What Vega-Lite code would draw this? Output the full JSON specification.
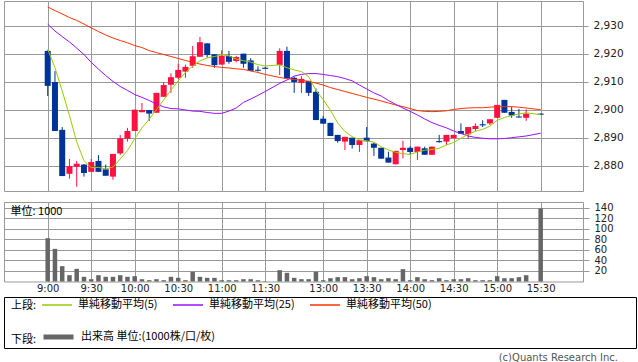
{
"$schema": "https://vega.github.io/schema/vega-lite/v6.json",
"padding": {"left": 3, "top": 0, "right": 0, "bottom": 0},
"background": "white",
"config": {
  "view": {"stroke": "#999999", "strokeWidth": 1},
  "axis": {"gridColor": "#999999", "gridOpacity": 1, "gridWidth": 1, "domain": false, "tickColor": "#999999", "labelColor": "#222222", "labelFont": "DejaVu Sans", "labelFontSize": 10},
  "axisY": {"values": [2880,2890,2900,2910,2920,2930], "format": ",d", "tickSize": 5, "labelPadding": 5, "labelFontSize": 10.5, "labelOverlap": false, "grid": true}
},
"datasets": {
"k": [
{"s":0,"o":2921.0,"h":2921.2,"l":2904.9,"c":2908.5,"ma5":2921.6,"ma25":2930.5,"ma50":2936.7},
{"s":1,"o":2909.9,"h":2913.8,"l":2892.4,"c":2892.4,"ma5":2915.0,"ma25":2928.1,"ma50":2935.4},
{"s":2,"o":2892.8,"h":2893.8,"l":2876.3,"c":2876.3,"ma5":2906.7,"ma25":2926.1,"ma50":2934.2},
{"s":3,"o":2877.1,"h":2882.4,"l":2875.4,"c":2879.9,"ma5":2897.9,"ma25":2924.2,"ma50":2932.9},
{"s":4,"o":2879.6,"h":2881.7,"l":2872.5,"c":2880.7,"ma5":2888.5,"ma25":2922.0,"ma50":2931.9},
{"s":5,"o":2880.4,"h":2880.6,"l":2876.1,"c":2877.4,"ma5":2881.8,"ma25":2919.7,"ma50":2930.6},
{"s":6,"o":2877.8,"h":2882.4,"l":2877.8,"c":2881.3,"ma5":2879.3,"ma25":2916.9,"ma50":2929.2},
{"s":7,"o":2881.7,"h":2883.8,"l":2877.8,"c":2877.8,"ma5":2879.4,"ma25":2914.5,"ma50":2927.9},
{"s":8,"o":2878.7,"h":2880.4,"l":2876.4,"c":2876.4,"ma5":2878.8,"ma25":2912.2,"ma50":2926.7},
{"s":9,"o":2876.1,"h":2884.2,"l":2875.0,"c":2884.2,"ma5":2879.5,"ma25":2910.1,"ma50":2925.6},
{"s":10,"o":2884.4,"h":2891.0,"l":2883.8,"c":2889.8,"ma5":2882.4,"ma25":2908.3,"ma50":2924.7},
{"s":11,"o":2889.6,"h":2893.5,"l":2888.6,"c":2892.4,"ma5":2885.4,"ma25":2906.9,"ma50":2923.9},
{"s":12,"o":2892.4,"h":2900.0,"l":2892.4,"c":2900.0,"ma5":2889.6,"ma25":2905.4,"ma50":2922.9},
{"s":13,"o":2899.1,"h":2902.4,"l":2899.1,"c":2899.9,"ma5":2893.5,"ma25":2904.4,"ma50":2922.2},
{"s":14,"o":2899.9,"h":2899.9,"l":2896.0,"c":2898.6,"ma5":2896.6,"ma25":2903.3,"ma50":2921.1},
{"s":15,"o":2898.9,"h":2906.0,"l":2898.9,"c":2906.0,"ma5":2900.0,"ma25":2902.0,"ma50":2920.4},
{"s":16,"o":2904.6,"h":2909.9,"l":2904.6,"c":2908.8,"ma5":2903.5,"ma25":2901.0,"ma50":2919.7},
{"s":17,"o":2908.9,"h":2913.0,"l":2906.0,"c":2911.6,"ma5":2907.0,"ma25":2900.4,"ma50":2919.0},
{"s":18,"o":2911.4,"h":2916.4,"l":2911.0,"c":2914.2,"ma5":2910.3,"ma25":2900.3,"ma50":2918.3},
{"s":19,"o":2913.6,"h":2916.1,"l":2911.4,"c":2915.3,"ma5":2913.3,"ma25":2899.9,"ma50":2917.6},
{"s":20,"o":2915.7,"h":2922.8,"l":2915.0,"c":2919.1,"ma5":2915.6,"ma25":2899.5,"ma50":2916.9},
{"s":21,"o":2918.9,"h":2926.0,"l":2918.9,"c":2924.1,"ma5":2917.4,"ma25":2899.4,"ma50":2916.3},
{"s":22,"o":2923.7,"h":2923.7,"l":2918.6,"c":2919.5,"ma5":2918.5,"ma25":2899.0,"ma50":2915.8},
{"s":23,"o":2919.8,"h":2919.8,"l":2915.0,"c":2915.9,"ma5":2919.0,"ma25":2898.7,"ma50":2915.4},
{"s":24,"o":2916.1,"h":2921.2,"l":2916.1,"c":2919.2,"ma5":2919.6,"ma25":2898.7,"ma50":2915.1},
{"s":25,"o":2919.2,"h":2921.0,"l":2916.4,"c":2917.1,"ma5":2919.2,"ma25":2899.5,"ma50":2914.9},
{"s":26,"o":2917.4,"h":2919.2,"l":2916.9,"c":2918.8,"ma5":2918.1,"ma25":2900.6,"ma50":2914.6},
{"s":27,"o":2920.0,"h":2920.0,"l":2915.0,"c":2916.4,"ma5":2917.5,"ma25":2902.6,"ma50":2914.4},
{"s":28,"o":2917.6,"h":2918.4,"l":2913.9,"c":2913.9,"ma5":2917.0,"ma25":2903.8,"ma50":2913.8},
{"s":29,"o":2914.3,"h":2915.5,"l":2913.6,"c":2913.9,"ma5":2916.1,"ma25":2905.1,"ma50":2913.3},
{"s":30,"o":2915.0,"h":2915.2,"l":2914.6,"c":2914.6,"ma5":2915.6,"ma25":2906.5,"ma50":2912.6},
{"s":32,"o":2916.0,"h":2921.9,"l":2912.4,"c":2921.0,"ma5":2916.0,"ma25":2909.4,"ma50":2911.5},
{"s":33,"o":2921.0,"h":2922.5,"l":2911.2,"c":2911.2,"ma5":2915.0,"ma25":2910.6,"ma50":2911.1},
{"s":34,"o":2911.4,"h":2911.8,"l":2906.0,"c":2909.9,"ma5":2914.2,"ma25":2912.0,"ma50":2910.8},
{"s":35,"o":2909.6,"h":2912.0,"l":2906.0,"c":2911.0,"ma5":2913.6,"ma25":2912.6,"ma50":2910.5},
{"s":36,"o":2910.3,"h":2910.3,"l":2904.9,"c":2906.0,"ma5":2911.8,"ma25":2912.9,"ma50":2910.1},
{"s":37,"o":2906.4,"h":2907.6,"l":2896.3,"c":2896.3,"ma5":2906.9,"ma25":2912.9,"ma50":2909.5},
{"s":38,"o":2896.8,"h":2897.8,"l":2895.0,"c":2895.0,"ma5":2903.6,"ma25":2912.6,"ma50":2908.8},
{"s":39,"o":2895.3,"h":2895.3,"l":2890.6,"c":2890.6,"ma5":2899.8,"ma25":2912.2,"ma50":2907.9},
{"s":40,"o":2891.0,"h":2891.0,"l":2888.2,"c":2888.8,"ma5":2895.3,"ma25":2911.8,"ma50":2907.2},
{"s":41,"o":2888.6,"h":2890.3,"l":2885.6,"c":2890.3,"ma5":2892.2,"ma25":2911.1,"ma50":2906.5},
{"s":42,"o":2890.0,"h":2890.0,"l":2886.1,"c":2887.4,"ma5":2890.4,"ma25":2910.3,"ma50":2905.8},
{"s":43,"o":2887.4,"h":2889.1,"l":2884.9,"c":2889.1,"ma5":2889.2,"ma25":2908.8,"ma50":2905.1},
{"s":44,"o":2890.0,"h":2893.8,"l":2888.7,"c":2888.7,"ma5":2888.9,"ma25":2907.4,"ma50":2904.4},
{"s":45,"o":2887.9,"h":2888.2,"l":2883.5,"c":2886.4,"ma5":2888.4,"ma25":2906.0,"ma50":2903.8},
{"s":46,"o":2886.4,"h":2886.4,"l":2882.5,"c":2882.5,"ma5":2886.8,"ma25":2904.9,"ma50":2903.1},
{"s":47,"o":2882.9,"h":2885.0,"l":2881.1,"c":2881.1,"ma5":2885.6,"ma25":2903.3,"ma50":2902.4},
{"s":48,"o":2880.5,"h":2885.3,"l":2880.5,"c":2885.3,"ma5":2884.8,"ma25":2901.9,"ma50":2901.7},
{"s":49,"o":2885.6,"h":2888.9,"l":2882.6,"c":2886.4,"ma5":2884.3,"ma25":2900.6,"ma50":2901.1},
{"s":50,"o":2886.4,"h":2887.0,"l":2884.1,"c":2884.9,"ma5":2884.0,"ma25":2899.4,"ma50":2900.4},
{"s":51,"o":2884.9,"h":2886.8,"l":2882.0,"c":2886.8,"ma5":2884.9,"ma25":2898.1,"ma50":2899.7},
{"s":52,"o":2886.2,"h":2886.8,"l":2883.9,"c":2883.9,"ma5":2885.5,"ma25":2896.7,"ma50":2899.4},
{"s":53,"o":2883.9,"h":2886.8,"l":2883.9,"c":2886.8,"ma5":2885.8,"ma25":2895.4,"ma50":2899.3},
{"s":54,"o":2888.8,"h":2891.0,"l":2888.2,"c":2888.4,"ma5":2886.2,"ma25":2894.4,"ma50":2899.4},
{"s":55,"o":2888.6,"h":2891.0,"l":2887.4,"c":2891.0,"ma5":2887.4,"ma25":2893.5,"ma50":2899.6},
{"s":56,"o":2889.8,"h":2891.0,"l":2889.8,"c":2891.0,"ma5":2888.3,"ma25":2892.4,"ma50":2900.1},
{"s":57,"o":2892.4,"h":2895.1,"l":2891.4,"c":2891.4,"ma5":2889.8,"ma25":2891.5,"ma50":2900.4},
{"s":58,"o":2891.2,"h":2893.8,"l":2889.6,"c":2893.8,"ma5":2891.2,"ma25":2890.6,"ma50":2900.6},
{"s":59,"o":2893.1,"h":2895.1,"l":2892.4,"c":2894.2,"ma5":2892.3,"ma25":2890.1,"ma50":2900.7},
{"s":60,"o":2894.8,"h":2896.2,"l":2893.8,"c":2894.4,"ma5":2893.0,"ma25":2889.8,"ma50":2900.7},
{"s":61,"o":2895.1,"h":2896.6,"l":2894.5,"c":2896.6,"ma5":2894.1,"ma25":2889.6,"ma50":2900.9},
{"s":62,"o":2897.1,"h":2901.7,"l":2897.1,"c":2901.7,"ma5":2896.2,"ma25":2889.6,"ma50":2901.1},
{"s":63,"o":2903.5,"h":2903.5,"l":2898.9,"c":2898.9,"ma5":2897.2,"ma25":2889.7,"ma50":2901.1},
{"s":64,"o":2899.2,"h":2901.0,"l":2897.1,"c":2897.9,"ma5":2897.9,"ma25":2890.0,"ma50":2901.1},
{"s":65,"o":2897.6,"h":2900.3,"l":2897.2,"c":2897.2,"ma5":2898.5,"ma25":2890.3,"ma50":2900.9},
{"s":66,"o":2897.1,"h":2900.1,"l":2896.0,"c":2898.6,"ma5":2898.9,"ma25":2890.6,"ma50":2900.6},
{"s":68,"o":2898.6,"h":2898.6,"l":2898.2,"c":2898.2,"ma5":2898.2,"ma25":2891.6,"ma50":2900.0}
],
"vol": [
{"s":0,"v":82.5},{"s":1,"v":62.2},{"s":2,"v":29.2},{"s":3,"v":12.0},{"s":4,"v":24.1},{"s":5,"v":8.9},{"s":6,"v":4.4},{"s":7,"v":12.0},{"s":8,"v":8.9},{"s":9,"v":8.9},
{"s":10,"v":12.0},{"s":11,"v":8.9},{"s":12,"v":10.2},{"s":13,"v":4.4},{"s":14,"v":2.5},{"s":15,"v":4.4},{"s":16,"v":2.5},{"s":17,"v":8.9},{"s":18,"v":7.0},{"s":19,"v":2.5},
{"s":20,"v":18.4},{"s":21,"v":8.9},{"s":22,"v":7.0},{"s":23,"v":7.0},{"s":24,"v":2.5},{"s":25,"v":2.5},{"s":26,"v":2.5},{"s":27,"v":4.4},{"s":28,"v":4.4},{"s":29,"v":2.5},
{"s":30,"v":0.6},{"s":32,"v":21.6},{"s":33,"v":16.5},{"s":34,"v":7.0},{"s":35,"v":4.4},{"s":36,"v":4.4},{"s":37,"v":18.4},{"s":38,"v":2.5},{"s":39,"v":6.3},
{"s":40,"v":8.3},{"s":41,"v":8.3},{"s":42,"v":4.4},{"s":43,"v":6.3},{"s":44,"v":10.2},{"s":45,"v":8.3},{"s":46,"v":4.4},{"s":47,"v":6.3},{"s":48,"v":4.4},{"s":49,"v":23.5},
{"s":50,"v":2.5},{"s":51,"v":8.3},{"s":52,"v":4.4},{"s":53,"v":2.5},{"s":54,"v":6.3},{"s":55,"v":2.5},{"s":56,"v":4.4},{"s":57,"v":4.4},{"s":58,"v":6.3},{"s":59,"v":2.5},
{"s":60,"v":2.5},{"s":61,"v":2.5},{"s":62,"v":10.2},{"s":63,"v":6.3},{"s":64,"v":6.3},{"s":65,"v":8.3},{"s":66,"v":12.0},{"s":68,"v":139.0}
]
},
"bounds": "full",
"spacing": 2,
"vconcat": [
{
  "bounds": "flush",
  "spacing": 11,
  "vconcat": [
  {
    "width": 579, "height": 190,
    "data": {"name": "k"},
    "encoding": {
      "x": {"field": "s", "type": "quantitative", "scale": {"domain": [-5.34, 73.15], "nice": false, "zero": false},
            "axis": {"values": [0,6,12,18,24,30,38,44,50,56,62,68], "labels": false, "ticks": false, "domain": false, "grid": true, "title": null}}
    },
    "layer": [
      {"mark": {"type": "rule", "strokeWidth": 1},
       "encoding": {
         "y": {"field": "l", "type": "quantitative", "scale": {"domain": [2870.96, 2938.82], "nice": false, "zero": false},
               "axis": {"orient": "right", "title": null}},
         "y2": {"field": "h"},
         "color": {"condition": {"test": "datum.c >= datum.o", "value": "#ff1040"}, "value": "#003399"}
       }},
      {"mark": {"type": "bar", "size": 6},
       "encoding": {
         "y": {"field": "o", "type": "quantitative", "axis": {"orient": "right", "title": null}},
         "y2": {"field": "c"},
         "color": {"condition": {"test": "datum.c >= datum.o", "value": "#ff1040"}, "value": "#003399"}
       }},
      {"mark": {"type": "line", "strokeWidth": 1},
       "encoding": {
         "y": {"field": "ma50", "type": "quantitative", "axis": {"orient": "right", "title": null}},
         "stroke": {"datum": "単純移動平均(50)", "type": "nominal",
           "scale": {"domain": ["単純移動平均(5)", "単純移動平均(25)", "単純移動平均(50)"], "range": ["#99cc00", "#9910ff", "#ff3300"]},
           "legend": {"orient": "none", "legendX": 7, "legendY": 288, "direction": "horizontal", "gridAlign": "none", "title": "上段:", "titleOrient": "left", "titleAnchor": "middle", "titleBaseline": "top", "titleFont": "Noto Sans CJK JP", "titleFontSize": 11, "titleFontWeight": "normal", "titleColor": "#000000", "titlePadding": 4, "symbolType": "stroke", "symbolSize": 900, "symbolStrokeWidth": 1.5, "labelFont": "Noto Sans CJK JP", "labelFontSize": 11, "labelColor": "#000000", "labelOffset": 5, "columnPadding": 12, "padding": 0}}
       }},
      {"mark": {"type": "line", "strokeWidth": 1},
       "encoding": {
         "y": {"field": "ma25", "type": "quantitative", "axis": {"orient": "right", "title": null}},
         "stroke": {"datum": "単純移動平均(25)", "type": "nominal"}
       }},
      {"mark": {"type": "line", "strokeWidth": 1},
       "encoding": {
         "y": {"field": "ma5", "type": "quantitative", "axis": {"orient": "right", "title": null}},
         "stroke": {"datum": "単純移動平均(5)", "type": "nominal"}
       }}
    ]
  },
  {
    "width": 579, "height": 79.5,
    "data": {"name": "vol"},
    "mark": {"type": "bar", "size": 4.5},
    "encoding": {
      "x": {"field": "s", "type": "quantitative", "scale": {"domain": [-5.34, 73.15], "nice": false, "zero": false},
            "axis": {"values": [0,6,12,18,24,30,38,44,50,56,62,68], "labelExpr": "datum.value <= 30 ? ['9:00','9:30','10:00','10:30','11:00','11:30'][datum.value/6] : ['13:00','13:30','14:00','14:30','15:00','15:30'][(datum.value-38)/6]", "ticks": false, "tickSize": 0, "labelPadding": 2, "domain": false, "grid": true, "title": null, "labelFlush": false, "labelOverlap": false}},
      "y": {"field": "v", "type": "quantitative", "scale": {"domain": [0, 151.4], "nice": false},
            "axis": {"orient": "right", "values": [20,40,60,80,100,120,140], "format": "d", "tickSize": 6, "labelPadding": 5, "labelFontSize": 10, "labelOverlap": false, "grid": true,
                     "title": "単位: 1000", "titleX": -573, "titleY": 9, "titleAngle": 0, "titleAlign": "left", "titleBaseline": "middle", "titleFont": "Noto Sans CJK JP", "titleFontSize": 11, "titleFontWeight": "normal", "titleColor": "#000000"}},
      "fill": {"datum": "出来高 単位:(1000株/口/枚)", "type": "nominal", "scale": {"range": ["#666666"]},
               "legend": {"orient": "none", "legendX": 7, "legendY": 318.5, "direction": "horizontal", "title": "下段:", "titleOrient": "left", "titleAnchor": "middle", "titleBaseline": "top", "titleFont": "Noto Sans CJK JP", "titleFontSize": 11, "titleFontWeight": "normal", "titleColor": "#000000", "titlePadding": 4, "symbolType": "stroke", "symbolSize": 900, "symbolStrokeWidth": 5, "symbolStrokeColor": "#666666", "labelFont": "Noto Sans CJK JP", "labelFontSize": 11, "labelColor": "#000000", "labelOffset": 5, "padding": 0}}
    }
  }
  ]
},
{
  "width": 632, "height": 51,
  "view": {"stroke": "#000000"},
  "data": {"values": []},
  "mark": "text",
  "encoding": {},
  "title": {"text": "(c)Quants Research Inc.", "orient": "bottom", "anchor": "end", "dx": -18, "offset": 5, "font": "DejaVu Sans", "fontSize": 10, "fontWeight": "normal", "color": "#555555"}
}
]
}
